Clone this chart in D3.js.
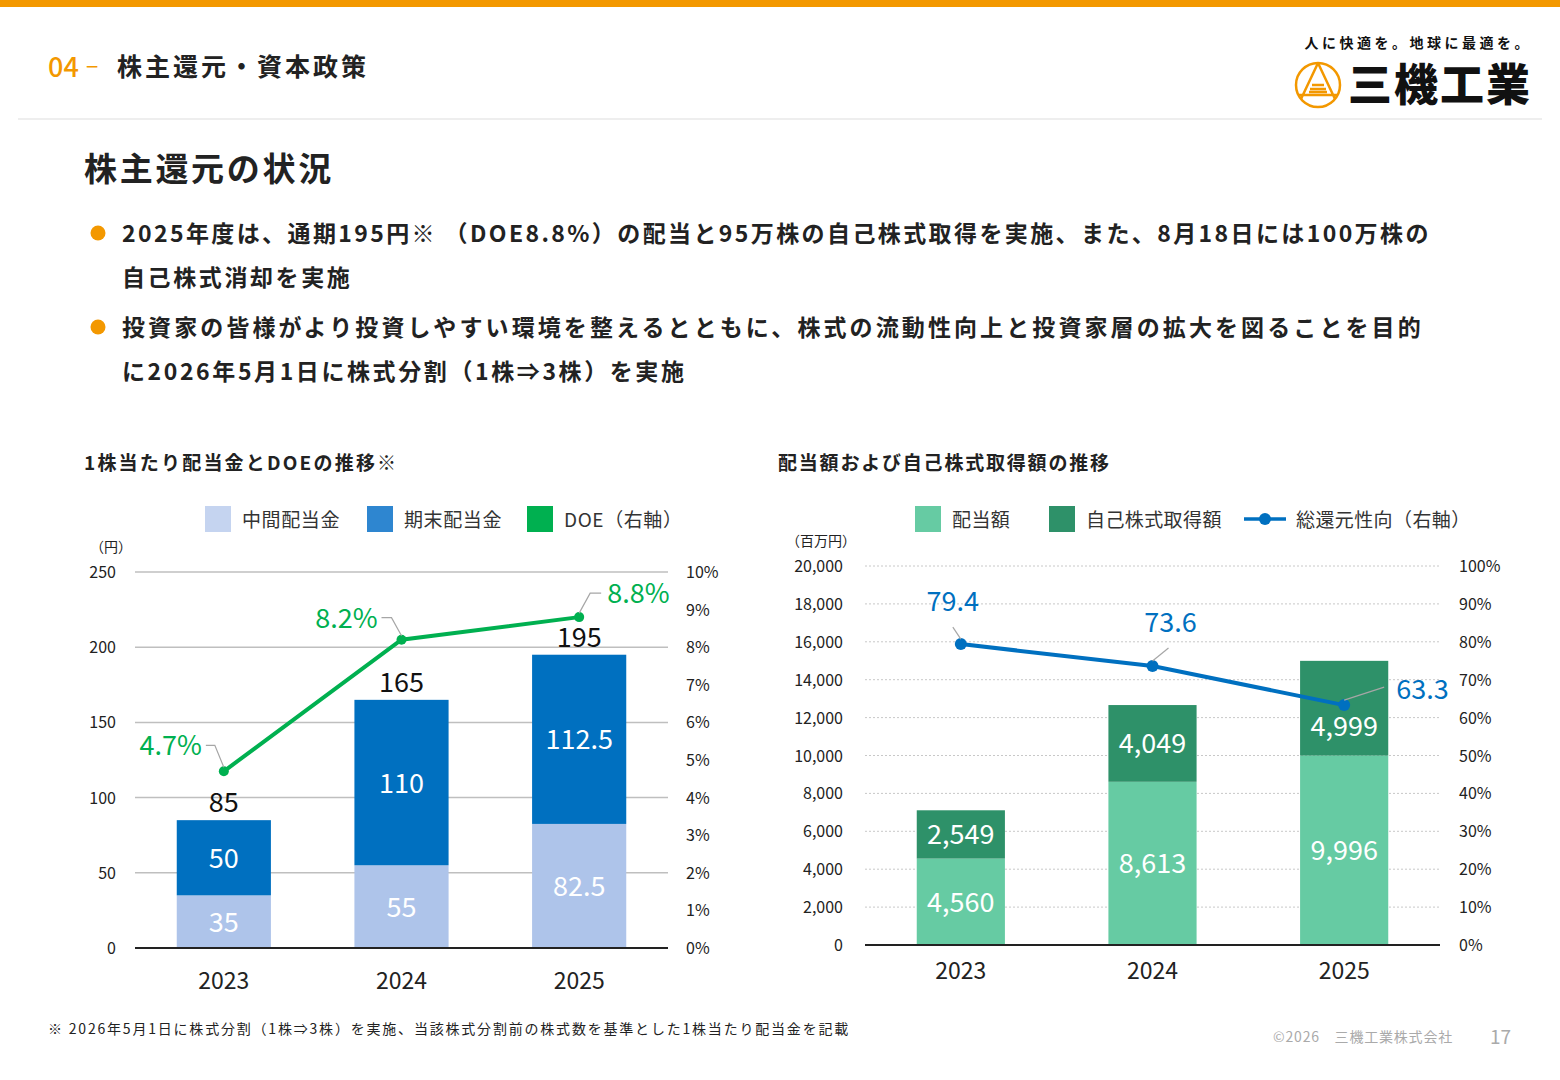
<!DOCTYPE html>
<html><head><meta charset="utf-8">
<script src="https://cdn.jsdelivr.net/npm/d3@7"></script>
<style>
body{margin:0;background:#fff;font-family:"Noto Sans CJK JP","Noto Sans",sans-serif;}
svg text{font-family:"Noto Sans CJK JP","Noto Sans",sans-serif;}
</style></head><body>
<svg id="page" width="1560" height="1080"></svg>
<script>
// left chart data
const years = ["2023", "2024", "2025"];
const interimDiv = [35, 55, 82.5];
const finalDiv = [50, 110, 112.5];
const totalDiv = [85, 165, 195];
const doe = [4.7, 8.2, 8.8];
const leftTicks = [0, 50, 100, 150, 200, 250];
const leftPctTicks = [0, 1, 2, 3, 4, 5, 6, 7, 8, 9, 10];

// right chart data
const dividendAmt = [4560, 8613, 9996];
const buybackAmt = [2549, 4049, 4999];
const payout = [79.4, 73.6, 63.3];
const rightTicks = [0, 2000, 4000, 6000, 8000, 10000, 12000, 14000, 16000, 18000, 20000];
const rightPctTicks = [0, 10, 20, 30, 40, 50, 60, 70, 80, 90, 100];

const svg = d3.select("#page");
const fmt = d3.format(",");

// header
svg.append("rect").attr("x", 0).attr("y", 0).attr("width", 1560).attr("height", 7).attr("fill", "#f39800");
svg.append("rect").attr("x", 18).attr("y", 118).attr("width", 1524).attr("height", 2).attr("fill", "#eeeeee");
svg.append("text").attr("x", 48).attr("y", 77).attr("font-size", 27).attr("fill", "#f39800").attr("font-weight", 500).text("04");
svg.append("text").attr("x", 86).attr("y", 75).attr("font-size", 22).attr("fill", "#f39800").text("−");
svg.append("text").attr("x", 117).attr("y", 76).attr("font-size", 25).attr("font-weight", 700).attr("letter-spacing", 3).attr("fill", "#222").text("株主還元・資本政策");
svg.append("text").attr("x", 1532).attr("y", 48).attr("text-anchor", "end").attr("font-size", 14).attr("font-weight", 700).attr("letter-spacing", 3.5).attr("fill", "#111").text("人に快適を。地球に最適を。");
const logo = svg.append("g").attr("transform", "translate(1318,85)");
logo.append("circle").attr("r", 22).attr("fill", "none").attr("stroke", "#f39800").attr("stroke-width", 2.5);
logo.append("path").attr("d", "M0,-22 L-17,14 M0,-22 L17,14 M-19,10 L19,10 M-6,0 L6,0 M-8,4 L8,4 M-9,7 L9,7").attr("stroke", "#f39800").attr("stroke-width", 2.5).attr("fill", "none");
svg.append("text").attr("x", 1348).attr("y", 101).attr("font-size", 44).attr("font-weight", 900).attr("fill", "#111").attr("letter-spacing", 2).text("三機工業");

svg.append("text").attr("x", 84).attr("y", 181).attr("font-size", 33).attr("font-weight", 700).attr("letter-spacing", 2.7).attr("fill", "#222").text("株主還元の状況");
const bullets = [
  ["2025年度は、通期195円※ （DOE8.8%）の配当と95万株の自己株式取得を実施、また、8月18日には100万株の", "自己株式消却を実施"],
  ["投資家の皆様がより投資しやすい環境を整えるとともに、株式の流動性向上と投資家層の拡大を図ることを目的", "に2026年5月1日に株式分割（1株⇒3株）を実施"]
];
const bulletSpacing = [[2.4, 2.6], [3.1, 2.6]];
bullets.forEach((b, i) => {
  const y0 = 242 + i * 94;
  svg.append("circle").attr("cx", 98).attr("cy", y0 - 9).attr("r", 7.5).attr("fill", "#f39800");
  b.forEach((t, j) => svg.append("text").attr("x", 122).attr("y", y0 + j * 44).attr("font-size", 23).attr("font-weight", 700).attr("letter-spacing", bulletSpacing[i][j]).attr("fill", "#222").text(t));
});

// ---------- left chart ----------
svg.append("text").attr("x", 84).attr("y", 470).attr("font-size", 19).attr("font-weight", 700).attr("letter-spacing", 2.2).attr("fill", "#222").text("1株当たり配当金とDOEの推移※");
const lx = d3.scaleBand().domain(years).range([135, 668]).paddingInner(0.47).paddingOuter(0.235);
const ly = d3.scaleLinear().domain([0, 250]).range([948, 572]);
const lp = d3.scaleLinear().domain([0, 10]).range([948, 572]);
const L = svg.append("g");
L.selectAll("line.g").data(leftTicks.slice(1)).join("line")
  .attr("x1", 135).attr("x2", 668).attr("y1", d => ly(d)).attr("y2", d => ly(d)).attr("stroke", "#bfbfbf").attr("stroke-width", 1.5);
L.selectAll("text.yl").data(leftTicks).join("text").attr("x", 116).attr("y", d => ly(d) + 6).attr("text-anchor", "end").attr("font-size", 16).attr("fill", "#222").text(d => d);
L.selectAll("text.yr").data(leftPctTicks).join("text").attr("x", 686).attr("y", d => lp(d) + 6).attr("font-size", 16).attr("fill", "#222").text(d => d + "%");
L.append("text").attr("x", 90).attr("y", 552).attr("font-size", 14).attr("fill", "#222").text("（円）");
L.selectAll("rect.i").data(years).join("rect").attr("x", d => lx(d)).attr("width", lx.bandwidth())
  .attr("y", (d, i) => ly(interimDiv[i])).attr("height", (d, i) => ly(0) - ly(interimDiv[i])).attr("fill", "#aec4ea");
L.selectAll("rect.f").data(years).join("rect").attr("x", d => lx(d)).attr("width", lx.bandwidth())
  .attr("y", (d, i) => ly(interimDiv[i] + finalDiv[i])).attr("height", (d, i) => ly(0) - ly(finalDiv[i])).attr("fill", "#0070c0");
L.append("line").attr("x1", 135).attr("x2", 668).attr("y1", ly(0)).attr("y2", ly(0)).attr("stroke", "#222").attr("stroke-width", 2);
const cx = d => lx(d) + lx.bandwidth() / 2;
L.selectAll("text.iv").data(years).join("text").attr("x", cx).attr("y", (d, i) => ly(interimDiv[i] / 2) + 10).attr("text-anchor", "middle").attr("font-size", 27).attr("fill", "#fff").text((d, i) => interimDiv[i]);
L.selectAll("text.fv").data(years).join("text").attr("x", cx).attr("y", (d, i) => ly(interimDiv[i] + finalDiv[i] / 2) + 10).attr("text-anchor", "middle").attr("font-size", 27).attr("fill", "#fff").text((d, i) => finalDiv[i]);
L.selectAll("text.tv").data(years).join("text").attr("x", cx).attr("y", (d, i) => ly(totalDiv[i]) - 8).attr("text-anchor", "middle").attr("font-size", 27).attr("fill", "#111").text((d, i) => totalDiv[i]);
L.selectAll("text.xl").data(years).join("text").attr("x", cx).attr("y", 989).attr("text-anchor", "middle").attr("font-size", 23).attr("fill", "#222").text(d => d);
L.append("path").datum(doe).attr("fill", "none").attr("stroke", "#00b050").attr("stroke-width", 4)
  .attr("d", d3.line().x((d, i) => cx(years[i])).y(d => lp(d)));
L.selectAll("circle.p").data(doe).join("circle").attr("cx", (d, i) => cx(years[i])).attr("cy", d => lp(d)).attr("r", 5).attr("fill", "#00b050");
const doeLab = [[-18, -26, -60], [-20, -22, -60], [22, -24, 32]];
doe.forEach((d, i) => {
  const x = cx(years[i]), y = lp(d), o = doeLab[i];
  L.append("path").attr("d", `M${x},${y - 4} L${x + o[0] / 2},${y + o[1]} L${x + o[0]},${y + o[1]}`).attr("fill", "none").attr("stroke", "#a6a6a6").attr("stroke-width", 1.2);
  L.append("text").attr("x", x + o[0] + (o[2] < 0 ? -4 : 6)).attr("y", y + o[1] + 10).attr("text-anchor", o[2] < 0 ? "end" : "start").attr("font-size", 27).attr("fill", "#00b050").text(d + "%");
});
const lleg = [["中間配当金", "#c5d4f0", 205], ["期末配当金", "#2e86d0", 367], ["DOE（右軸）", "#00b050", 527]];
lleg.forEach(l => {
  svg.append("rect").attr("x", l[2]).attr("y", 506).attr("width", 26).attr("height", 26).attr("fill", l[1]);
  svg.append("text").attr("x", l[2] + 37).attr("y", 527).attr("font-size", 19).attr("letter-spacing", 0.6).attr("fill", "#333").text(l[0]);
});

// ---------- right chart ----------
svg.append("text").attr("x", 778).attr("y", 470).attr("font-size", 19).attr("font-weight", 700).attr("letter-spacing", 1.8).attr("fill", "#222").text("配当額および自己株式取得額の推移");
const rx = d3.scaleBand().domain(years).range([865, 1440]).paddingInner(0.54).paddingOuter(0.27);
const ry = d3.scaleLinear().domain([0, 20000]).range([945, 566]);
const rp = d3.scaleLinear().domain([0, 100]).range([945, 566]);
const R = svg.append("g");
R.selectAll("line.g").data(rightTicks.slice(1)).join("line")
  .attr("x1", 865).attr("x2", 1440).attr("y1", d => ry(d)).attr("y2", d => ry(d)).attr("stroke", "#c8c8c8").attr("stroke-dasharray", "2,2");
R.selectAll("text.yl").data(rightTicks).join("text").attr("x", 843).attr("y", d => ry(d) + 6).attr("text-anchor", "end").attr("font-size", 16).attr("fill", "#222").text(d => fmt(d));
R.selectAll("text.yr").data(rightPctTicks).join("text").attr("x", 1459).attr("y", d => rp(d) + 6).attr("font-size", 16).attr("fill", "#222").text(d => d + "%");
R.append("text").attr("x", 786).attr("y", 546).attr("font-size", 14).attr("fill", "#222").text("（百万円）");
const rc = d => rx(d) + rx.bandwidth() / 2;
const bOff = [0, 0, 18];
R.selectAll("rect.d").data(years).join("rect").attr("x", d => rx(d)).attr("width", rx.bandwidth())
  .attr("y", (d, i) => ry(dividendAmt[i])).attr("height", (d, i) => ry(0) - ry(dividendAmt[i])).attr("fill", "#66cba3");
R.selectAll("rect.b").data(years).join("rect").attr("x", d => rx(d)).attr("width", rx.bandwidth())
  .attr("y", (d, i) => ry(dividendAmt[i] + buybackAmt[i])).attr("height", (d, i) => ry(0) - ry(buybackAmt[i])).attr("fill", "#2e9169");
R.append("line").attr("x1", 865).attr("x2", 1440).attr("y1", ry(0)).attr("y2", ry(0)).attr("stroke", "#222").attr("stroke-width", 2);
R.selectAll("text.dv").data(years).join("text").attr("x", rc).attr("y", (d, i) => ry(dividendAmt[i] / 2) + 10).attr("text-anchor", "middle").attr("font-size", 27).attr("fill", "#fff").text((d, i) => fmt(dividendAmt[i]));
R.selectAll("text.bv").data(years).join("text").attr("x", rc).attr("y", (d, i) => ry(dividendAmt[i] + buybackAmt[i] / 2) + 10 + bOff[i]).attr("text-anchor", "middle").attr("font-size", 27).attr("fill", "#fff").text((d, i) => fmt(buybackAmt[i]));
R.selectAll("text.xl").data(years).join("text").attr("x", rc).attr("y", 979).attr("text-anchor", "middle").attr("font-size", 23).attr("fill", "#222").text(d => d);
R.append("path").datum(payout).attr("fill", "none").attr("stroke", "#0070c0").attr("stroke-width", 4)
  .attr("d", d3.line().x((d, i) => rc(years[i])).y(d => rp(d)));
R.selectAll("circle.p").data(payout).join("circle").attr("cx", (d, i) => rc(years[i])).attr("cy", d => rp(d)).attr("r", 6).attr("fill", "#0070c0");
const payLeader = [[-8, -17], [16, -18], [40, -18]];
const payText = [[-8, -33, "middle"], [18, -34, "middle"], [52, -6, "start"]];
payout.forEach((d, i) => {
  const x = rc(years[i]), y = rp(d);
  R.append("path").attr("d", `M${x},${y - 5} L${x + payLeader[i][0]},${y + payLeader[i][1]}`).attr("fill", "none").attr("stroke", "#a6a6a6").attr("stroke-width", 1.2);
  R.append("text").attr("x", x + payText[i][0]).attr("y", y + payText[i][1]).attr("text-anchor", payText[i][2]).attr("font-size", 27).attr("fill", "#0070c0").text(d);
});
const rleg = [["配当額", "#66cba3", 915], ["自己株式取得額", "#2e9169", 1049]];
rleg.forEach(l => {
  svg.append("rect").attr("x", l[2]).attr("y", 506).attr("width", 26).attr("height", 26).attr("fill", l[1]);
  svg.append("text").attr("x", l[2] + 37).attr("y", 527).attr("font-size", 19).attr("letter-spacing", 0.4).attr("fill", "#333").text(l[0]);
});
svg.append("line").attr("x1", 1244).attr("x2", 1286).attr("y1", 519).attr("y2", 519).attr("stroke", "#0070c0").attr("stroke-width", 3.5);
svg.append("circle").attr("cx", 1265).attr("cy", 519).attr("r", 6).attr("fill", "#0070c0");
svg.append("text").attr("x", 1296).attr("y", 527).attr("font-size", 19).attr("letter-spacing", 0.4).attr("fill", "#333").text("総還元性向（右軸）");

// footer
svg.append("text").attr("x", 48).attr("y", 1034).attr("font-size", 14).attr("letter-spacing", 1.8).attr("fill", "#222").text("※ 2026年5月1日に株式分割（1株⇒3株）を実施、当該株式分割前の株式数を基準とした1株当たり配当金を記載");
svg.append("text").attr("x", 1453).attr("y", 1042).attr("text-anchor", "end").attr("font-size", 14).attr("letter-spacing", 0.8).attr("fill", "#aaa").text("©2026　三機工業株式会社");
svg.append("text").attr("x", 1511).attr("y", 1044).attr("text-anchor", "end").attr("font-size", 19).attr("fill", "#aaa").text("17");
</script></body></html>
